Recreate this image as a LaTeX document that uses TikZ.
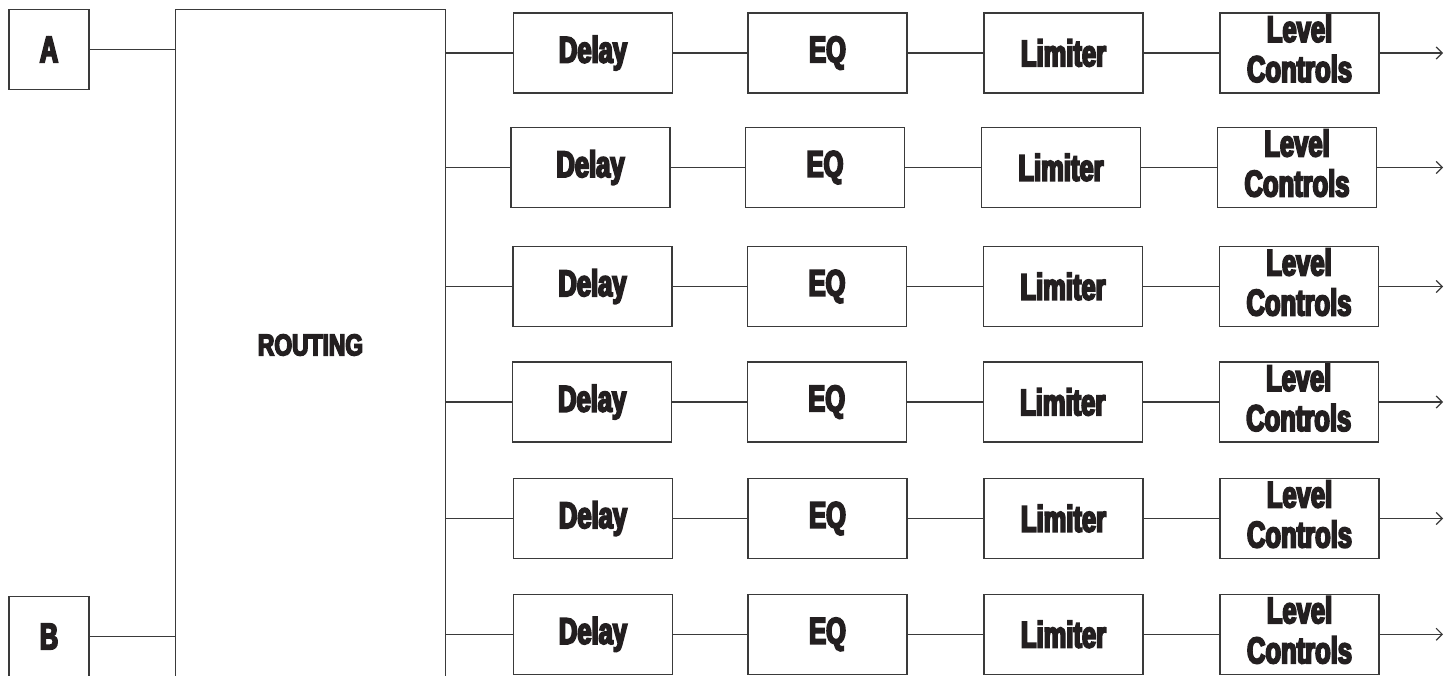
\documentclass[tikz,border=0pt]{standalone}
\usepackage{fontspec}
\newfontfamily\cond{Liberation Sans}[FakeStretch=0.69, BoldFeatures={FakeBold=5}]
\newfontfamily\condR{Liberation Sans}[FakeStretch=0.76, BoldFeatures={FakeBold=5}]
\usetikzlibrary{arrows.meta}
\definecolor{ln}{HTML}{3A3A3A}
\definecolor{tx}{HTML}{231F20}
\begin{document}
\begin{tikzpicture}[x=1pt,y=-1pt,
  blk/.style={draw=ln, line width=1.2pt, minimum width=159pt, minimum height=80pt,
    inner sep=0pt, text=tx, font=\cond\bfseries\fontsize{37}{40}\selectfont, align=center},
  twoline/.style={blk, text depth=9pt},
  wire/.style={draw=ln, line width=1.2pt},
  outarrow/.style={wire, -{Straight Barb[length=6pt,width=12pt,line width=1.2pt]}}]
\useasboundingbox (0,0) rectangle (1455,675);
% inputs and routing
\node[blk, minimum width=80pt, minimum height=80pt] (A) at (49,49.5) {A};
\node[blk, minimum width=80pt, minimum height=80pt] (B) at (49,636.5) {B};
\node[blk, minimum width=269.5pt, minimum height=671pt,
      font=\condR\bfseries\fontsize{30}{32}\selectfont] (R) at (310.5,345) {ROUTING};
\draw[wire] (A.east) -- (A.east -| R.west);
\draw[wire] (B.east) -- (B.east -| R.west);
% channels
\foreach \r/\y/\dx in {1/53/0, 2/167.5/-2.5, 3/286.5/-0.5, 4/402/-0.8, 5/518.5/0, 6/634.3/0}{
  \node[blk] (D\r) at (593+\dx,\y) {Delay};
  \node[blk] (E\r) at (827.5+\dx,\y) {EQ};
  \node[blk] (L\r) at (1063.5+\dx,\y) {Limiter};
  \node[twoline] (V\r) at (1299.5+\dx,\y) {Level\\Controls};
  \coordinate (O\r) at (1443,\y);
  \draw[wire] (D\r.west -| R.east) -- (D\r.west);
  \draw[wire] (D\r) -- (E\r);
  \draw[wire] (E\r) -- (L\r);
  \draw[wire] (L\r) -- (V\r);
  \draw[outarrow] (V\r.east) -- (O\r);
}
\end{tikzpicture}
\end{document}
